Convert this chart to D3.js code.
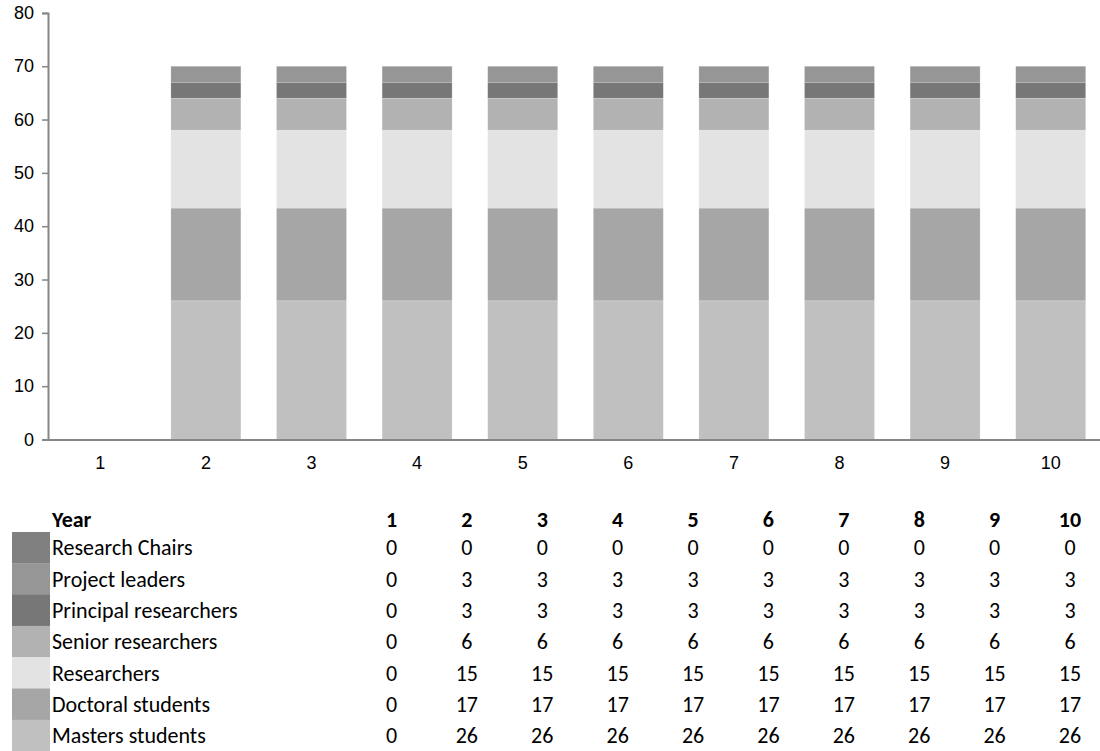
<!DOCTYPE html>
<html>
<head>
<meta charset="utf-8">
<script src="https://cdn.jsdelivr.net/npm/d3@7"></script>
<style>
  html, body { margin: 0; padding: 0; background: #fff; }
  svg { display: block; }
</style>
</head>
<body>
<svg id="chart" width="1100" height="751"></svg>
<script>
// ---- Data ----
const years = [1, 2, 3, 4, 5, 6, 7, 8, 9, 10];
const yTicks = [0, 10, 20, 30, 40, 50, 60, 70, 80];
const researchChairs       = [0, 0, 0, 0, 0, 0, 0, 0, 0, 0];
const projectLeaders       = [0, 3, 3, 3, 3, 3, 3, 3, 3, 3];
const principalResearchers = [0, 3, 3, 3, 3, 3, 3, 3, 3, 3];
const seniorResearchers    = [0, 6, 6, 6, 6, 6, 6, 6, 6, 6];
const researchers          = [0, 14.6, 14.6, 14.6, 14.6, 14.6, 14.6, 14.6, 14.6, 14.6];
const doctoralStudents     = [0, 17.4, 17.4, 17.4, 17.4, 17.4, 17.4, 17.4, 17.4, 17.4];
const mastersStudents      = [0, 26, 26, 26, 26, 26, 26, 26, 26, 26];

// series in stacking order (bottom -> top)
const seriesNames = ["Masters students", "Doctoral students", "Researchers", "Senior researchers",
                     "Principal researchers", "Project leaders", "Research Chairs"];
const seriesValues = [mastersStudents, doctoralStudents, researchers, seniorResearchers,
                      principalResearchers, projectLeaders, researchChairs];
const seriesColors = ["#c0c0c0", "#a6a6a6", "#e3e3e3", "#b2b2b2", "#777777", "#969696", "#808080"];

// ---- Build table for stack ----
const rows = years.map((y, i) => {
  const r = { year: y };
  seriesNames.forEach((n, k) => r[n] = seriesValues[k][i]);
  return r;
});
const stacked = d3.stack().keys(seriesNames)(rows);

const svg = d3.select("#chart");
const axisColor = "#868686";
const tickFont = "'Liberation Sans', Arial, sans-serif";
const tableFont = "Carlito, Calibri, Lato, sans-serif";

const x = d3.scaleBand().domain(years).range([47.5, 1103.5]).paddingInner(0.337).paddingOuter(0.1685);
const y = d3.scaleLinear().domain([0, 80]).range([439.5, 12.9]);

// bars
const g = svg.append("g");
g.selectAll("g.series").data(stacked).enter().append("g")
  .attr("fill", (d, i) => seriesColors[i])
  .selectAll("rect").data(d => d).enter().append("rect")
  .attr("x", d => x(d.data.year))
  .attr("width", x.bandwidth())
  .attr("y", d => y(d[1]))
  .attr("height", d => Math.max(0, y(d[0]) - y(d[1])))
  .attr("stroke", "#ffffff").attr("stroke-opacity", 0.35).attr("stroke-width", 0.6);

// y axis
const yAxis = d3.axisLeft(y).tickValues(yTicks).tickSize(6).tickPadding(8).tickFormat(d3.format("d"));
const ya = svg.append("g").attr("transform", "translate(48,0)").call(yAxis);
ya.select(".domain").attr("stroke", axisColor).attr("stroke-width", 2);
ya.selectAll(".tick line").attr("stroke", axisColor).attr("stroke-width", 1.5);
ya.selectAll(".tick text").attr("fill", "#000").style("font-family", tickFont).style("font-size", "18px");

// x axis
const xAxis = d3.axisBottom(x).tickSize(0).tickPadding(16);
const xa = svg.append("g").attr("transform", "translate(0,440)").call(xAxis);
xa.select(".domain").remove();
xa.append("line").attr("x1", 47).attr("x2", 1100).attr("y1", 0).attr("y2", 0)
  .attr("stroke", axisColor).attr("stroke-width", 2);
xa.selectAll(".tick text").attr("fill", "#000").style("font-family", tickFont).style("font-size", "18px");

// ---- Data table ----
const colX = d3.scaleLinear().domain([1, 10]).range([391.5, 1070]);
const rowTop = 532, rowH = 31.3;
const tableOrder = seriesNames.slice().reverse();
const tableColors = seriesColors.slice().reverse();
const tableValues = seriesValues.slice().reverse();
const fmt = d3.format(".0f");

const t = svg.append("g").style("font-family", tableFont).style("font-size", "22px").attr("fill", "#000");
t.append("text").attr("x", 52).attr("y", 519).attr("dy", "0.35em").attr("font-weight", "bold").text("Year");
t.selectAll("text.hdr").data(years).enter().append("text").attr("class", "hdr")
  .attr("x", d => colX(d)).attr("y", 519).attr("dy", "0.35em").attr("text-anchor", "middle")
  .attr("font-weight", "bold").text(d => d);

tableOrder.forEach((name, k) => {
  const cy = rowTop + rowH * k + rowH / 2;
  t.append("rect").attr("x", 12).attr("y", rowTop + rowH * k).attr("width", 38).attr("height", rowH + 0.3)
    .attr("fill", tableColors[k]);
  t.append("text").attr("x", 52).attr("y", cy).attr("dy", "0.35em").text(name);
  t.selectAll(null).data(tableValues[k]).enter().append("text")
    .attr("x", (d, i) => colX(years[i])).attr("y", cy).attr("dy", "0.35em").attr("text-anchor", "middle")
    .text(d => fmt(d));
});
</script>
</body>
</html>
